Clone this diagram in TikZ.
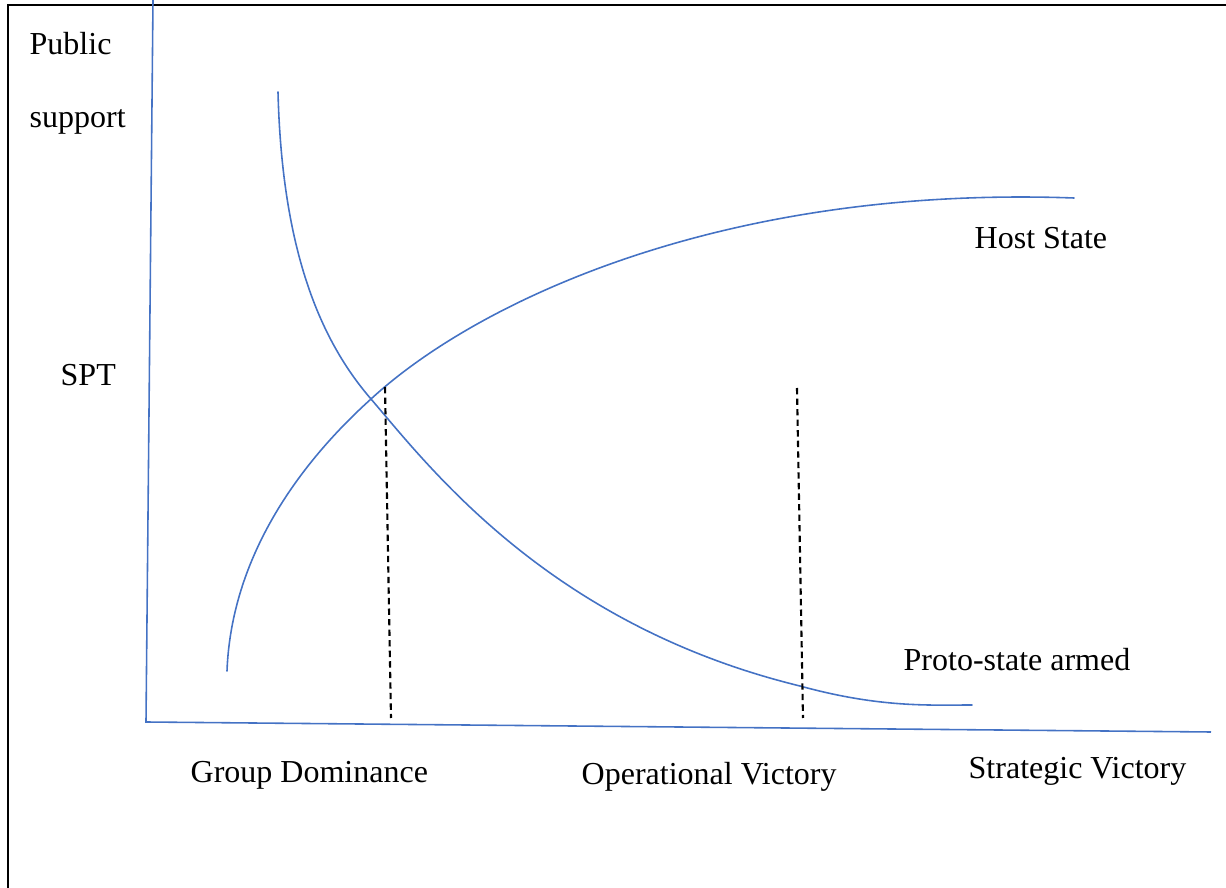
\documentclass[tikz,border=0pt]{standalone}
\usepackage{fontspec}
\setmainfont{Liberation Serif}
\usepackage{xcolor}
\usepackage{tikz}
\usetikzlibrary{calc}
\definecolor{curve}{HTML}{4472C4}
\definecolor{ink}{HTML}{000000}
\tikzset{
  frame/.style={draw=ink, line width=0.6pt},
  axis/.style={draw=curve, line width=0.45pt},
  trend/.style={draw=curve, line width=0.45pt, line cap=round},
  guide/.style={draw=ink, line width=0.6pt, dash pattern=on 1.8pt off 1.2pt},
  lab/.style={text=ink, font=\fontsize{9.1}{11}\selectfont, inner sep=0pt, anchor=base west}
}

\begin{document}
\begin{tikzpicture}[x=0.01cm, y=-0.01cm]
  \useasboundingbox (0,0) rectangle (1226,888);
  % outer box of the figure
  \draw[frame] (8,900) |- (1240,5);

  \coordinate (top) at (153,0);
  \coordinate (O) at (146,722);
  \coordinate (xend) at (1211,732);
  \draw[axis] (top) -- (O) -- (xend);

  \coordinate (cross) at (371,399);
  % proto-state armed group
  \coordinate (p0) at (278,92);
  \coordinate (p1) at (800,686);
  \coordinate (p2) at (972,705);
  \draw[trend] (p0) .. controls (282,250) and (320,340) .. (cross)
    .. controls (430,468) and (550,625) .. (p1)
    .. controls (880,708) and (930,705) .. (p2);
  % host state
  \coordinate (h0) at (227,671);
  \coordinate (h1) at (1074,198);
  \draw[trend] (h0) .. controls (232,540) and (320,445) .. (cross)
    .. controls (475,303) and (720,185) .. (h1);

  \coordinate (g1) at (385,387);
  \coordinate (g1b) at (391,718);
  \coordinate (g2) at (797,388);
  \coordinate (g2b) at (803,718);
  \draw[guide] (g1) -- (g1b);
  \draw[guide] (g2) -- (g2b);

  \node[lab] (public) at (29,55) {Public};
  \node[lab] (support) at (29,128) {support};
  \node[lab] (spt) at (60,386) {SPT};
  \node[lab] (host) at (974,249) {Host State};
  \node[lab] (proto) at (903,671) {Proto-state armed};
  \node[lab] (dom) at (190,783) {Group Dominance};
  \node[lab] (oper) at (581,785) {Operational Victory};
  \node[lab] (strat) at (968,779) {Strategic Victory};
\end{tikzpicture}
\end{document}
